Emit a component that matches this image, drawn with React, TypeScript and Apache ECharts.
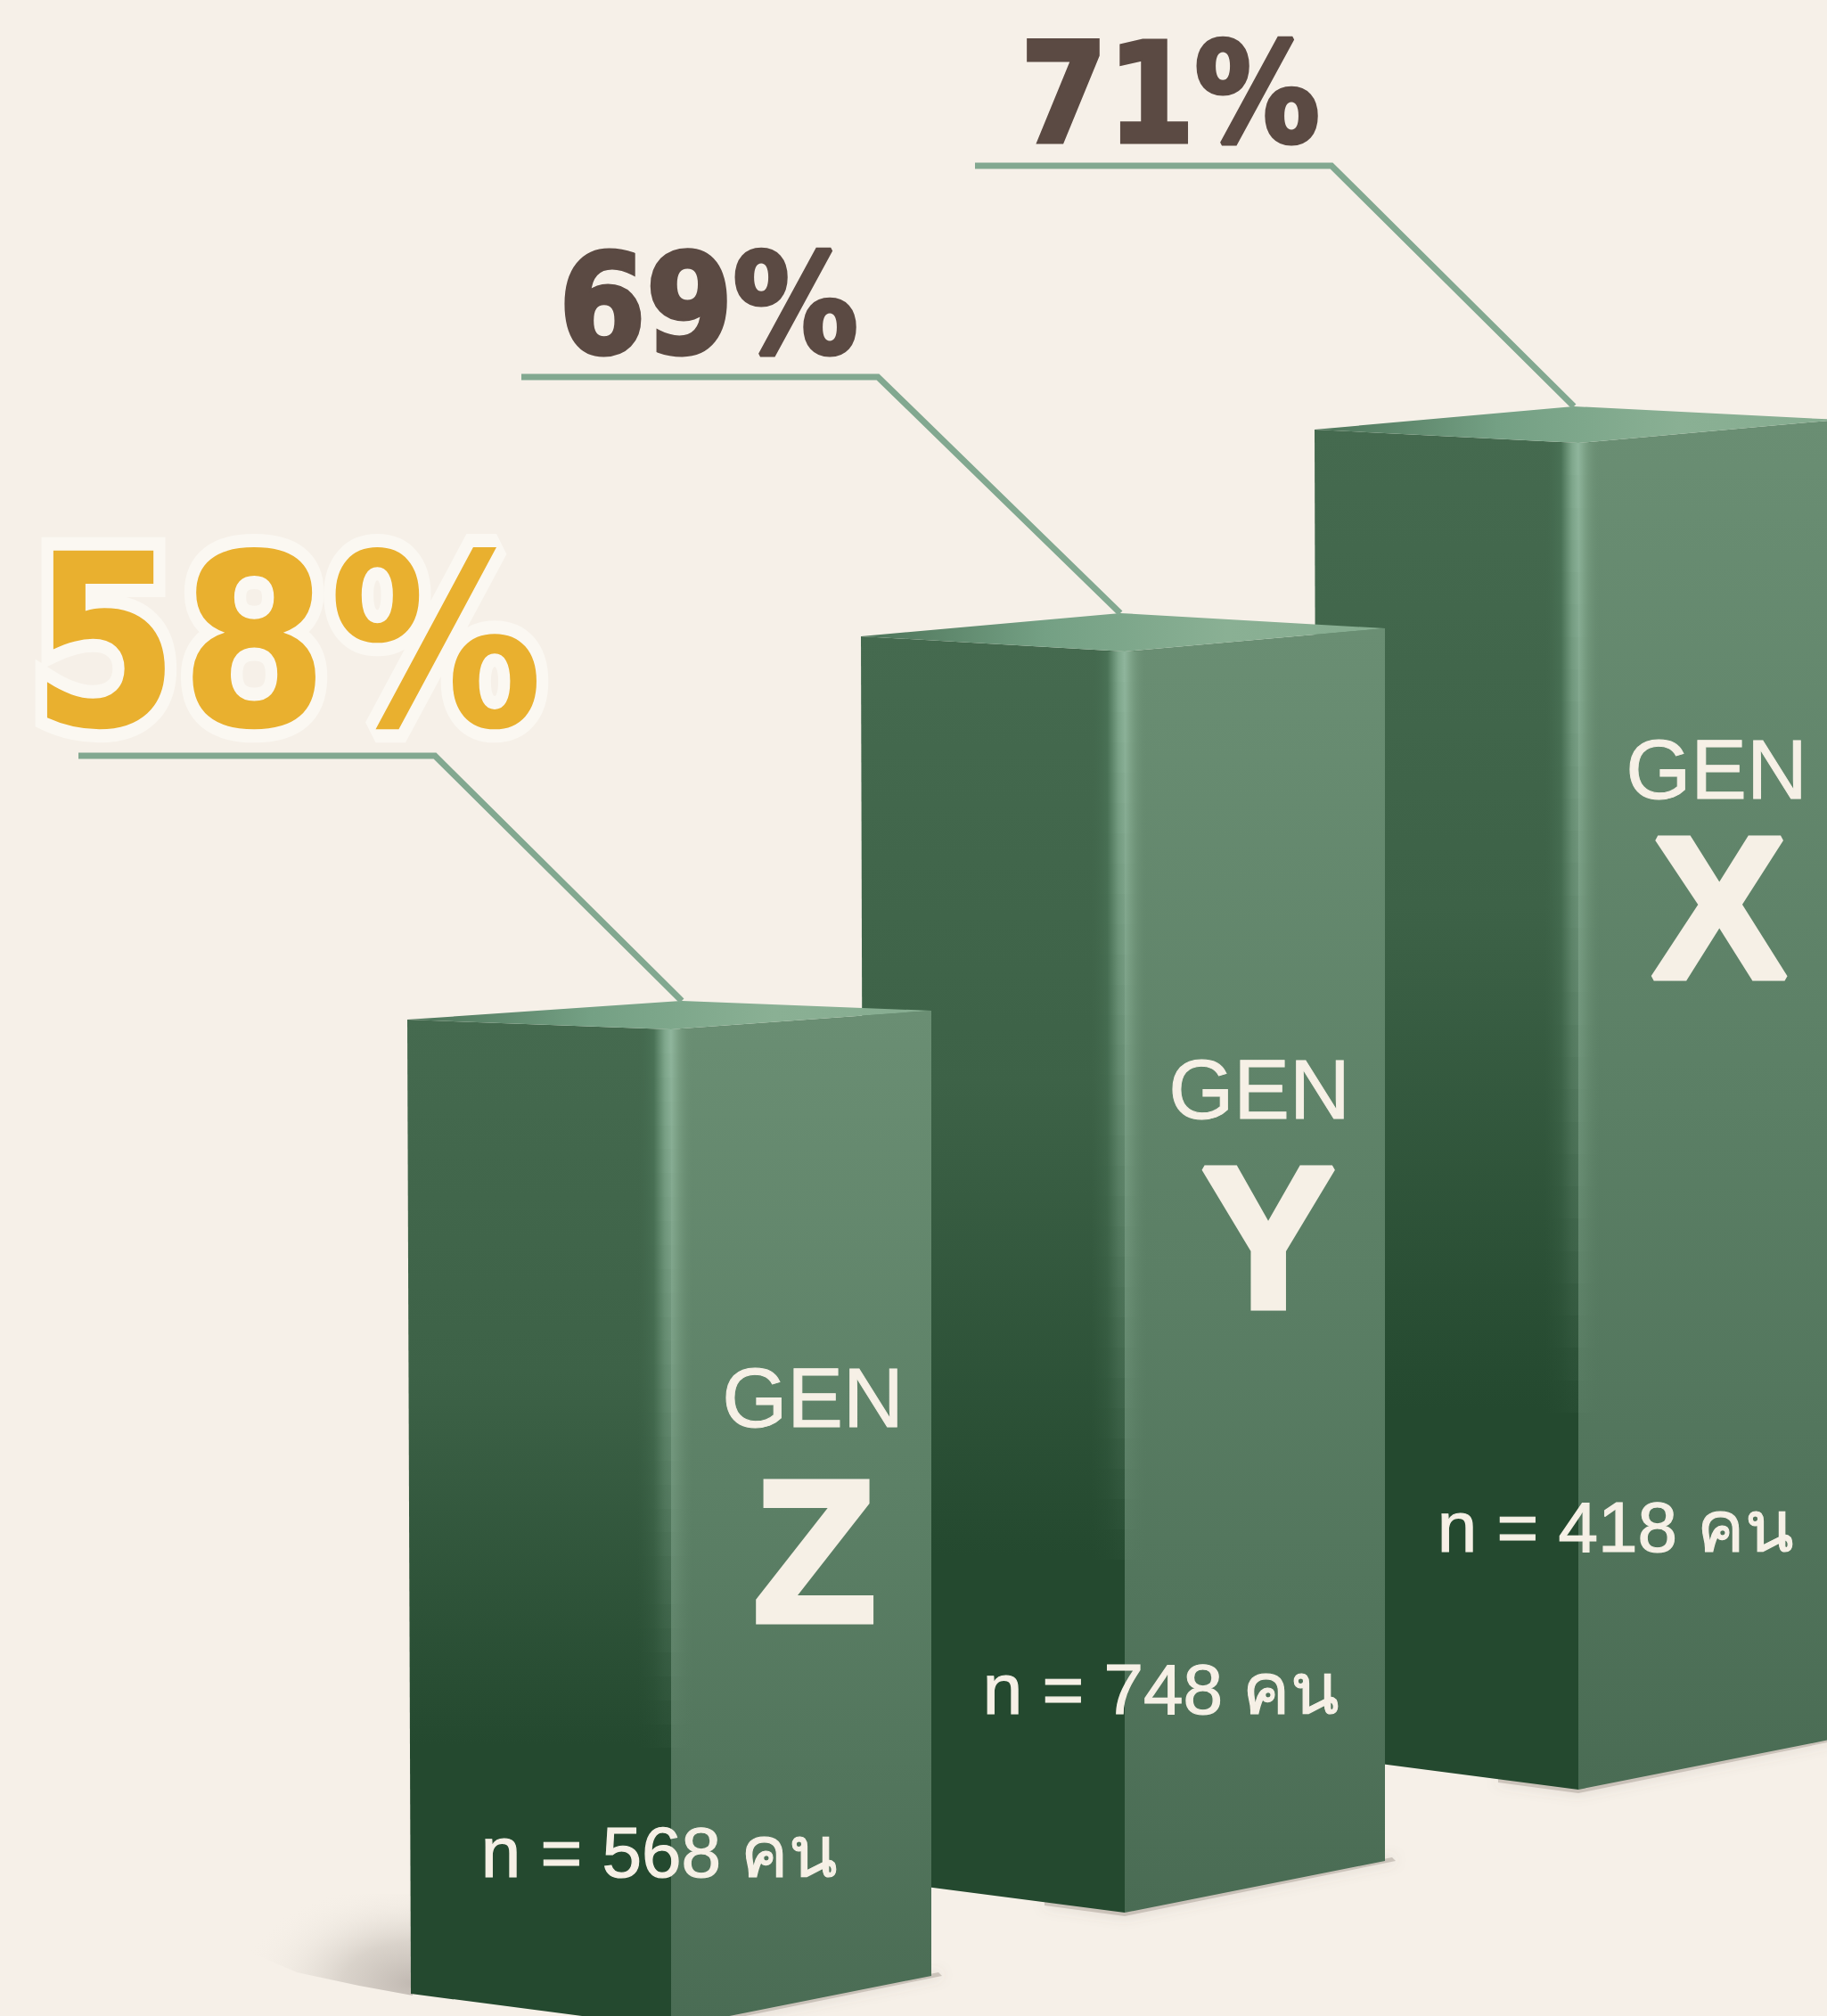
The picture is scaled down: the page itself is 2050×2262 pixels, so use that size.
import React, { useEffect, useRef } from "react";
import * as echarts from "echarts";

const categories = ["GEN Z", "GEN Y", "GEN X"];
const letters = ["Z", "Y", "X"];
const percentages = [58, 69, 71];
const respondents = [568, 748, 418];
// Bars are pictorial: heights, in picture units above the page floor.
const barTops = [1107, 1531, 1765];
const barBases = [-13, 116, 254];

// Layout, per bar (styling, not data)
const LAYOUT = [
  { skewL: 11, skewR: 21, apexDX: 12, rise: 275, bend: 277, pctX: 322, pctY: 721, pctSize: 270, pctScale: 0.89, pctStroke: "#fbf8f2", pctLine: 30, pctColor: "#e9b02f", genDX: 159, genDY: 413, letterDX: 161, letterDY: 585, nDX: -13, nDY: 923 },
  { skewL: 17, skewR: 26, apexDX: -5, rise: 265, bend: 272, pctX: 795, pctY: 342, pctSize: 156, pctScale: 0.9, pctStroke: "#5b4a43", pctLine: 5, pctColor: "#5b4a43", genDX: 151, genDY: 491, letterDX: 161, letterDY: 657, nDX: 41, nDY: 1164 },
  { skewL: 15, skewR: 26, apexDX: -5, rise: 270, bend: 272, pctX: 1313, pctY: 105, pctSize: 156, pctScale: 0.9, pctStroke: "#5b4a43", pctLine: 5, pctColor: "#5b4a43", genDX: 155, genDY: 366, letterDX: 158, letterDY: 521, nDX: 42, nDY: 1216 },
];
const BG = "#f6f0e8";
const CREAM = "#f6f0e6";
const LINE = "#82a890";
const SANS = '"Liberation Sans", Arial, sans-serif';
const HEAVY = '"DejaVu Sans", "Liberation Sans", sans-serif';
const THAI = '"Liberation Sans", "Noto Sans", "DejaVu Sans", sans-serif';

const poly = (points: number[][], fill: any, z2: number, extra: any = {}) => ({
  type: "polygon",
  shape: { points },
  style: { fill, ...extra },
  z2,
  silent: true,
});

const grad = (x: number, y: number, x2: number, y2: number, stops: [number, string][]) =>
  new echarts.graphic.LinearGradient(x, y, x2, y2, stops.map(([offset, color]) => ({ offset, color })));

function renderItem(params: any, api: any) {
  const i = params.dataIndex;
  const L = LAYOUT[i];
  const z = (3 - i) * 100;
  const [fx, fy] = api.coord([api.value(0), api.value(1)]);
  const [, by] = api.coord([api.value(0), api.value(2)]);
  const leftTop = [fx - 296, fy - L.skewL];
  const rightTop = [fx + 292, fy - L.skewR];
  const apex = [fx + L.apexDX, fy - L.skewL - L.skewR];
  const leftBot = [fx - 292, by - 38];
  const rightBot = [fx + 292, by - 58];
  const h = by - fy;
  const children: any[] = [];

  // soft contact shadow under the bottom edges
  children.push(
    poly(
      [[rightBot[0] + 8, rightBot[1] - 4], [fx, by - 2], [fx - 90, by - 12], [fx - 90, by - 8], [fx, by + 4], [rightBot[0] + 12, rightBot[1]]],
      "rgba(150,140,130,0.4)",
      z - 5,
      { shadowBlur: 14, shadowColor: "rgba(110,100,90,0.6)" },
    ),
  );
  if (i === 0) {
    const edge = leftBot[0] + 2;
    children.push(
      poly(
        [[edge, by - 150], [edge - 195, by - 150], [edge - 195, by - 90], [edge - 130, by - 62], [edge - 60, by - 47], [edge, by - 36]],
        new echarts.graphic.RadialGradient(1, 0.88, 1, [
          { offset: 0, color: "rgba(190,182,175,0.95)" },
          { offset: 0.4, color: "rgba(205,198,190,0.7)" },
          { offset: 0.72, color: "rgba(230,224,216,0.35)" },
          { offset: 1, color: "rgba(246,240,232,0)" },
        ]),
        z - 5,
      ),
    );
  }

  // faces
  children.push(
    poly([leftTop, [fx, fy], [fx, by], leftBot], grad(0, 0, 0, 1, [[0, "#456a4f"], [0.35, "#3d6247"], [0.72, "#24492f"], [1, "#24492f"]]), z),
    poly([[fx, fy], rightTop, rightBot, [fx, by]], grad(0, 0, 0, 1, [[0, "#6a8e73"], [0.5, "#5b7f65"], [1, "#4a6c54"]]), z),
    poly([leftTop, apex, rightTop, [fx, fy]], grad(0, 0, 1, 0, [[0, "#4c7358"], [0.35, "#74a084"], [0.7, "#8ab094"], [1, "#86ac90"]]), z + 2),
  );

  // highlighted corner, fading down the bar
  const segments = 30;
  const span = h * 0.72;
  for (let s = 0; s < segments; s++) {
    const y0 = Math.round(fy + (span * s) / segments);
    const y1 = Math.round(fy + (span * (s + 1)) / segments);
    children.push({
      type: "rect",
      shape: { x: fx - 38, y: y0, width: 62, height: y1 - y0 },
      style: {
        fill: grad(0, 0, 1, 0, [
          [0, "rgba(67,105,78,0)"],
          [0.3, "#4a7256"],
          [0.5, "#7fa78c"],
          [0.61, "#8fb59c"],
          [0.74, "#7ba085"],
          [1, "rgba(106,142,115,0)"],
        ]),
        opacity: 1 - s / segments,
      },
      z2: z + 1,
      silent: true,
    });
  }

  // leader line
  children.push({
    type: "polyline",
    shape: { points: [[apex[0] - L.bend - 400, apex[1] - L.rise], [apex[0] - L.bend, apex[1] - L.rise], [apex[0], apex[1]]] },
    style: { stroke: LINE, lineWidth: 7, fill: "none", lineJoin: "miter" },
    z2: z + 3,
    silent: true,
  });

  const label = (text: string, x: number, y: number, size: number, weight: string, family: string, strokeWidth: number) => ({
    type: "text",
    x,
    y,
    style: {
      text,
      fontSize: size,
      fontWeight: weight,
      fontFamily: family,
      fill: CREAM,
      stroke: CREAM,
      lineWidth: strokeWidth,
      lineJoin: "miter",
      miterLimit: 20,
      textAlign: "center",
      textVerticalAlign: "middle",
    },
    z2: z + 10,
    silent: true,
  });
  children.push(
    label("GEN", fx + L.genDX, fy + L.genDY, 94, "normal", SANS, 1),
    label(letters[i], fx + L.letterDX, fy + L.letterDY, 226, "bold", SANS, 7),
    label(`n = ${respondents[i]} คน`, fx + L.nDX, fy + L.nDY, 80, "normal", THAI, 1.2),
    {
      type: "text",
      x: L.pctX,
      y: L.pctY,
      scaleX: L.pctScale,
      style: {
        text: `${percentages[i]}%`,
        fontSize: L.pctSize,
        fontWeight: "bold",
        fontFamily: HEAVY,
        fill: L.pctColor,
        stroke: L.pctStroke,
        lineWidth: L.pctLine,
        lineJoin: "round",
        textAlign: "center",
        textVerticalAlign: "middle",
      },
      z2: z + 10,
      silent: true,
    },
  );
  return { type: "group", children };
}

export default function App() {
  const ref = useRef<HTMLDivElement>(null);
  useEffect(() => {
    document.body.style.margin = "0";
    document.body.style.overflow = "hidden";
    const chart = echarts.init(ref.current!, undefined, { renderer: "svg" });
    chart.setOption({
      animation: false,
      backgroundColor: BG,
      grid: { left: 498.5, right: 24.5, top: 0, bottom: 0 },
      xAxis: { type: "category", data: categories, show: false },
      yAxis: { type: "value", min: 0, max: 2262, show: false },
      series: [
        {
          type: "custom",
          clip: false,
          coordinateSystem: "cartesian2d",
          renderItem,
          encode: { x: 0, y: 1 },
          data: categories.map((_, i) => [i, barTops[i], barBases[i]]),
        },
      ],
    });
    return () => chart.dispose();
  }, []);
  return <div ref={ref} style={{ width: 2050, height: 2262 }} />;
}
